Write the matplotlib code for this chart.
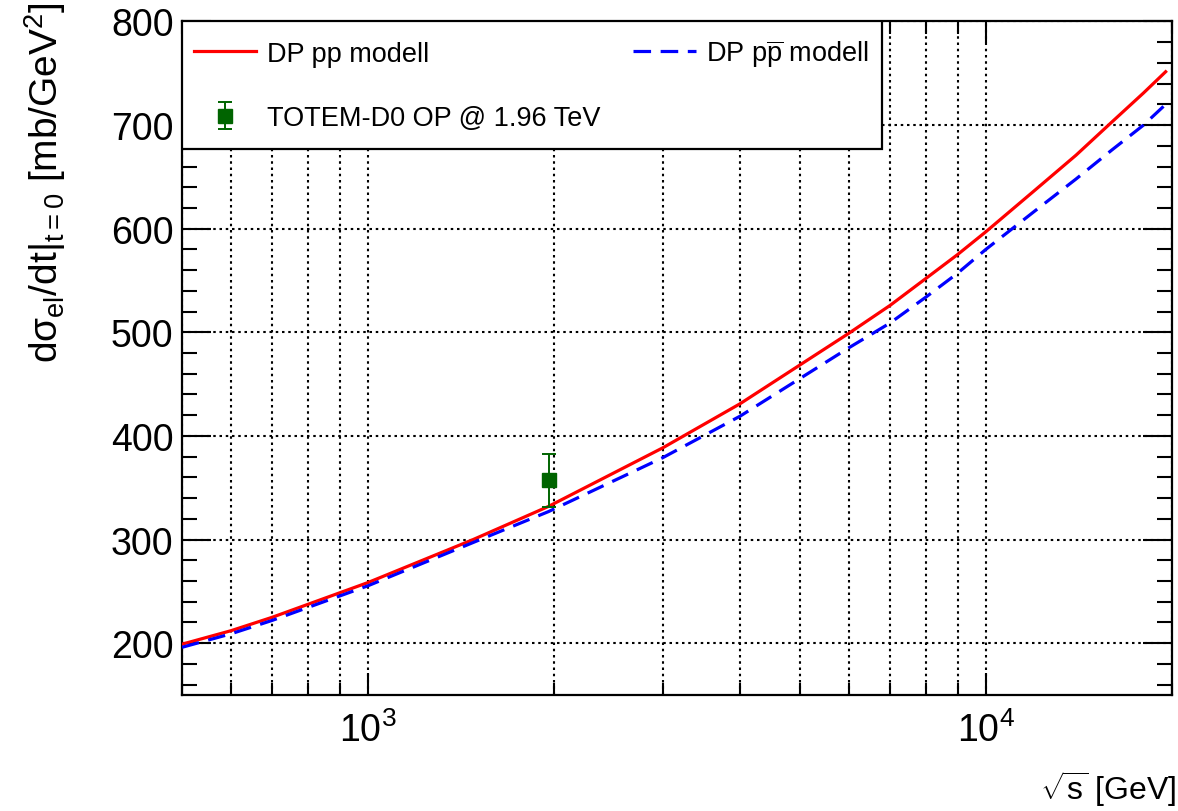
"""
Elastic differential cross section at t=0 versus sqrt(s):
DP model curves for pp and p-pbar, with the TOTEM-D0 point at 1.96 TeV.
"""

import matplotlib
matplotlib.use("Agg")
import matplotlib.pyplot as plt
from matplotlib.patches import Rectangle
from matplotlib.ticker import MultipleLocator, LogLocator, NullFormatter

plt.rcParams['font.family'] = ['Liberation Sans', 'DejaVu Sans']
plt.rcParams['mathtext.fontset'] = 'custom'
plt.rcParams['mathtext.rm'] = 'Liberation Sans'
plt.rcParams['mathtext.it'] = 'Liberation Sans'
plt.rcParams['mathtext.bf'] = 'Liberation Sans:bold'
plt.rcParams['mathtext.sf'] = 'Liberation Sans'

# model curves, sqrt(s) in GeV, dsigma/dt in mb/GeV^2
sqrt_s_pp = [500, 600, 700, 1000, 1480, 1960, 3000, 4000, 6000, 7000, 8000, 9000,
             10000, 12000, 14000, 16000, 18000, 19550]
dsdt_pp = [199, 212, 225, 258.5, 300, 332, 388.5, 431, 499, 526, 552, 575,
           597, 637, 671, 703, 731, 751.5]

sqrt_s_ppbar = [500, 600, 700, 1000, 1520, 1960, 3000, 4000, 6000, 7000, 8000, 9000,
                10000, 12000, 14000, 16000, 18000, 19550]
dsdt_ppbar = [196, 209, 222, 255.4, 300, 327, 379, 419, 485, 509, 534, 557,
              580, 617, 648, 676, 700, 720]

# TOTEM-D0 optical point
data_sqrt_s = [1960]
data_dsdt = [357]
data_err = [26]

fig = plt.figure(figsize=(11.78, 8.12), dpi=100)
ax = fig.add_axes([0.1545, 0.1429, 0.8402, 0.8294])

ax.plot(sqrt_s_pp, dsdt_pp, color='#ff0000', lw=2.3, label='DP pp modell', zorder=3)
ax.plot(sqrt_s_ppbar, dsdt_ppbar, color='#0000ff', lw=2.3, ls=(0, (5.5, 3.0)),
        label=r'DP p$\overline{\mathregular{p}}$ modell', zorder=3)
ax.errorbar(data_sqrt_s, data_dsdt, yerr=data_err, fmt='s', color='#006400',
            ms=10, elinewidth=1.4, capsize=5, capthick=1.4,
            label='TOTEM-D0 OP @ 1.96 TeV', zorder=4)

ax.set_xscale('log')
ax.set_xlim(500, 20000)
ax.set_ylim(150, 800)

ax.xaxis.set_major_locator(LogLocator(base=10))
ax.xaxis.set_minor_locator(LogLocator(base=10, subs=range(2, 10)))
ax.xaxis.set_minor_formatter(NullFormatter())
ax.yaxis.set_major_locator(MultipleLocator(100))
ax.yaxis.set_minor_locator(MultipleLocator(20))

# ROOT-like ticks: inward on all four sides
ax.tick_params(which='both', direction='in', top=True, right=True, width=1.5, colors='black')
ax.tick_params(axis='y', which='major', length=21, labelsize=27, pad=6)
ax.tick_params(axis='y', which='minor', length=11)
ax.tick_params(axis='x', which='major', length=16, labelsize=27, pad=12)
ax.tick_params(axis='x', which='minor', length=9)

for s in ax.spines.values():
    s.set_linewidth(1.6)

dotted = (0, (1.2, 1.8))
ax.grid(True, which='major', axis='y', color='black', lw=1.5, ls=dotted)
ax.grid(True, which='both', axis='x', color='black', lw=1.5, ls=dotted)
ax.set_axisbelow(True)

# legend box in the top-left corner
box = Rectangle((0, 0.8107), 0.707, 0.1893, transform=ax.transAxes,
                facecolor='white', edgecolor='black', lw=1.6, zorder=5)
ax.add_patch(box)

h, l = ax.get_legend_handles_labels()
order = [0, 2, 1]
leg = ax.legend([h[i] for i in order], [l[i] for i in order], ncol=2,
                loc='upper left', bbox_to_anchor=(0.0, 0.995), frameon=False,
                fontsize=19.5, handlelength=2.3, handletextpad=0.4,
                columnspacing=1.2, labelspacing=1.42, borderpad=0.45,
                borderaxespad=0.0)
leg.set_zorder(6)

fig.text(0.999, 0.004, r'$\sqrt{\mathregular{s}}$ [GeV]', ha='right', va='bottom', fontsize=23)
fig.text(0.038, 0.998, r'd$\sigma_{\mathregular{el}}$/dt$|_{\mathregular{t=0}}$ [mb/GeV$^{2}$]',
         rotation=90, ha='center', va='top', fontsize=28)

fig.savefig('out.png', dpi=100)
